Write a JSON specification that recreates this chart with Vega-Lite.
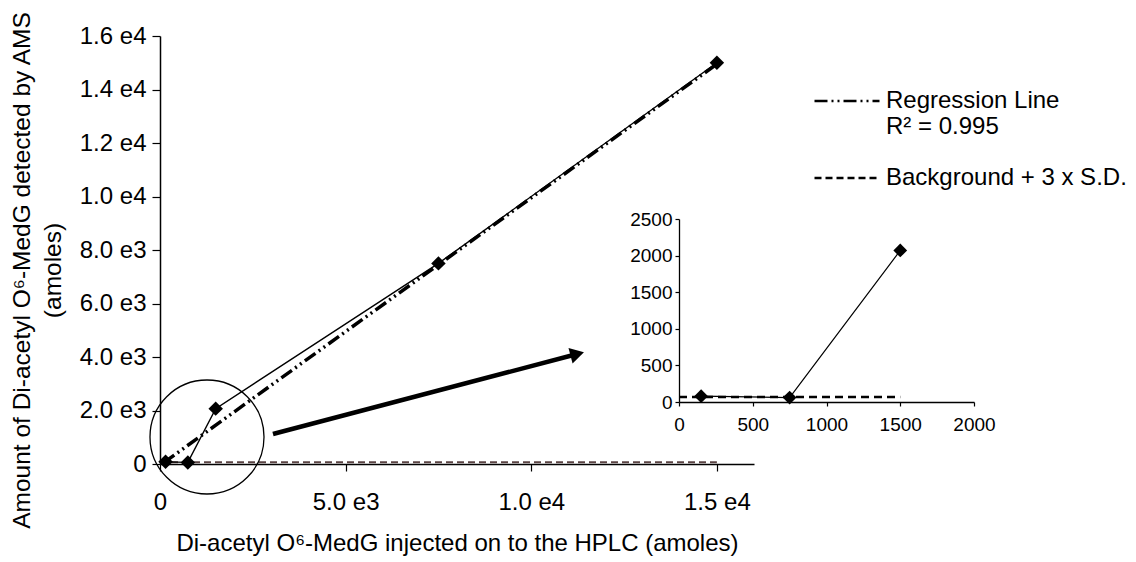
{
  "$schema": "https://vega.github.io/schema/vega-lite/v6.json",
  "width": 594,
  "height": 428,
  "autosize": "none",
  "padding": {"left": 160, "top": 36, "right": 382, "bottom": 98},
  "config": {
    "view": {"stroke": null},
    "font": "Liberation Sans",
    "axis": {"grid": false, "domainColor": "black", "tickColor": "black", "labelColor": "black", "titleColor": "black", "titleFontWeight": "normal", "labelFont": "Liberation Sans", "titleFont": "Liberation Sans"},
    "legend": {"labelFont": "Liberation Sans", "labelColor": "black"}
  },
  "datasets": {
    "standards": [
      {"injected": 150, "detected": 80},
      {"injected": 750, "detected": 60},
      {"injected": 1500, "detected": 2070},
      {"injected": 7500, "detected": 7500},
      {"injected": 15000, "detected": 15000}
    ],
    "inset_standards": [
      {"injected": 150, "detected": 80},
      {"injected": 750, "detected": 60},
      {"injected": 1500, "detected": 2070}
    ],
    "regression": [
      {"injected": 100, "detected": 50, "series": "Regression Line"},
      {"injected": 15000, "detected": 14950, "series": "Regression Line"}
    ],
    "background": [
      {"injected": 0, "detected": 70, "series": "Background + 3 x S.D."},
      {"injected": 15000, "detected": 70, "series": "Background + 3 x S.D."}
    ],
    "inset_background": [
      {"injected": 0, "detected": 70},
      {"injected": 1500, "detected": 70}
    ],
    "zoom_circle": [{"injected": 1266, "detected": 1009}],
    "arrow": [{"injected": 3043, "detected": 1121, "injected2": 11239, "detected2": 4112}]
  },
  "layer": [
    {
      "encoding": {
        "x": {
          "field": "injected", "type": "quantitative",
          "scale": {"domain": [0, 16000], "nice": false, "zero": false},
          "axis": {
            "title": "Di-acetyl O⁶-MedG injected on to the HPLC (amoles)",
            "values": [0, 5000, 10000, 15000],
            "labelExpr": "datum.value == 0 ? '0' : datum.value < 10000 ? format(datum.value / 1000, '.1f') + ' e3' : format(datum.value / 10000, '.1f') + ' e4'",
            "labelFontSize": 24, "titleFontSize": 24, "tickSize": 7, "labelPadding": 19, "titlePadding": 17,
            "domainWidth": 1.5, "tickWidth": 1.2, "labelFlush": false, "labelOverlap": false
          }
        },
        "y": {
          "field": "detected", "type": "quantitative",
          "scale": {"domain": [0, 16000], "nice": false, "zero": false},
          "axis": {
            "title": ["Amount of Di-acetyl O⁶-MedG detected by AMS", "(amoles)"],
            "values": [0, 2000, 4000, 6000, 8000, 10000, 12000, 14000, 16000],
            "labelExpr": "datum.value == 0 ? '0' : datum.value < 10000 ? format(datum.value / 1000, '.1f') + ' e3' : format(datum.value / 10000, '.1f') + ' e4'",
            "labelFontSize": 24, "titleFontSize": 24.5, "titleLineHeight": 31, "tickSize": 8, "labelPadding": 6, "titlePadding": 14,
            "titleY": 234,
            "domainWidth": 1.5, "tickWidth": 1.2, "labelFlush": false, "labelOverlap": false
          }
        }
      },
      "layer": [
        {
          "data": {"name": "background"},
          "mark": {"type": "line", "color": "#5a4444", "strokeWidth": 2},
          "encoding": {
            "strokeDash": {
              "field": "series", "type": "nominal",
              "scale": {"domain": ["Regression Line", "Background + 3 x S.D."], "range": [[13, 4, 2, 4, 2, 4], [7, 4]]},
              "legend": {
                "orient": "none", "legendX": 653, "legendY": 31, "title": null,
                "symbolType": "stroke", "symbolSize": 4225, "symbolStrokeWidth": 2.5, "symbolStrokeColor": "black",
                "labelFontSize": 24, "labelOffset": 5, "rowPadding": 5, "labelLimit": 400, "padding": 0,
                "labelExpr": "datum.value == 'Regression Line' ? ['Regression Line', 'R² = 0.995'] : datum.label"
              }
            }
          }
        },
        {
          "data": {"name": "standards"},
          "mark": {"type": "line", "color": "black", "strokeWidth": 1.4}
        },
        {
          "data": {"name": "regression"},
          "mark": {"type": "line", "color": "black", "strokeWidth": 3.5, "strokeCap": "butt"},
          "encoding": {
            "strokeDash": {"field": "series", "type": "nominal"}
          }
        },
        {
          "data": {"name": "standards"},
          "mark": {"type": "point", "shape": "diamond", "filled": true, "color": "black", "size": 210, "opacity": 1}
        },
        {
          "data": {"name": "zoom_circle"},
          "mark": {"type": "point", "shape": "circle", "filled": false, "stroke": "black", "strokeWidth": 1.3, "size": 13000, "opacity": 1}
        },
        {
          "data": {"name": "arrow"},
          "mark": {"type": "rule", "color": "black", "strokeWidth": 4.5, "strokeCap": "butt"},
          "encoding": {
            "x2": {"field": "injected2"},
            "y2": {"field": "detected2"}
          }
        },
        {
          "data": {"name": "arrow"},
          "mark": {"type": "point", "shape": "triangle-right", "filled": true, "color": "black", "size": 256, "angle": -14.7, "opacity": 1},
          "encoding": {
            "x": {"field": "injected2", "type": "quantitative"},
            "y": {"field": "detected2", "type": "quantitative"}
          }
        }
      ]
    },
    {
      "encoding": {
        "x": {
          "field": "injected", "type": "quantitative",
          "scale": {"domain": [0, 2000], "range": [519, 814], "nice": false, "zero": false},
          "axis": {
            "orient": "bottom", "offset": -62, "title": null, "format": "d",
            "values": [0, 500, 1000, 1500, 2000],
            "labelFontSize": 19, "tickSize": 4, "labelPadding": 9,
            "domainWidth": 1.3, "tickWidth": 1.2, "labelFlush": false, "labelOverlap": false
          }
        },
        "y": {
          "field": "detected", "type": "quantitative",
          "scale": {"domain": [0, 2500], "range": [366, 183], "nice": false, "zero": false},
          "axis": {
            "orient": "left", "offset": -519, "title": null, "format": "d",
            "values": [0, 500, 1000, 1500, 2000, 2500],
            "labelFontSize": 19, "tickSize": 4, "labelPadding": 3,
            "domainWidth": 1.3, "tickWidth": 1.2, "labelFlush": false, "labelOverlap": false
          }
        }
      },
      "layer": [
        {
          "data": {"name": "inset_background"},
          "mark": {"type": "line", "color": "black", "strokeWidth": 2.5, "strokeDash": [8, 5]}
        },
        {
          "data": {"name": "inset_standards"},
          "mark": {"type": "line", "color": "black", "strokeWidth": 1.2}
        },
        {
          "data": {"name": "inset_standards"},
          "mark": {"type": "point", "shape": "diamond", "filled": true, "color": "black", "size": 190, "opacity": 1}
        }
      ]
    }
  ],
  "resolve": {
    "scale": {"x": "independent", "y": "independent"},
    "axis": {"x": "independent", "y": "independent"}
  }
}
